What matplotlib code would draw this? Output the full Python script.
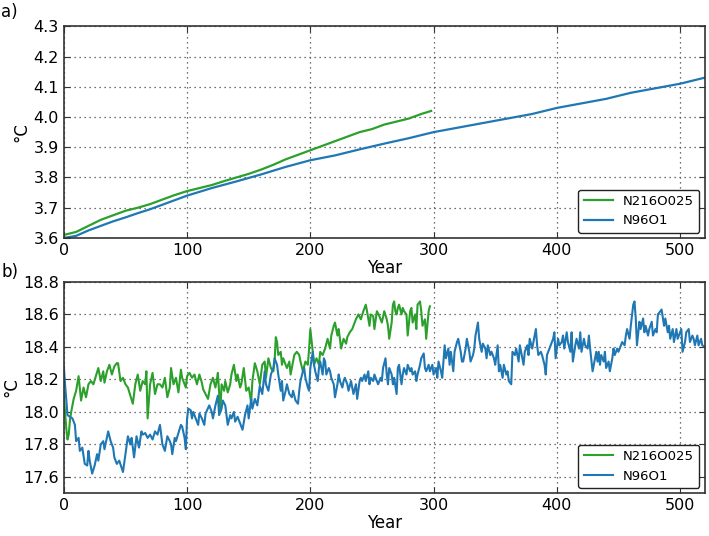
import numpy as np
import matplotlib
matplotlib.use("Agg")
import matplotlib.pyplot as plt

# ---------------- data ----------------
labels = ["N216O025", "N96O1"]
colors = ["#2ca02c", "#1f77b4"]

# panel a) (smooth global mean)
a_green_years = [0, 10, 20, 30, 40, 50, 60, 70, 80, 90, 100, 110, 120, 130, 140, 150, 160, 170, 180,
                 190, 200, 210, 220, 230, 240, 250, 260, 270, 280, 290, 298]
a_green_vals = [3.61, 3.62, 3.64, 3.66, 3.675, 3.69, 3.70, 3.712, 3.727, 3.742, 3.755, 3.765, 3.775, 3.788,
                3.80, 3.812, 3.826, 3.842, 3.86, 3.875, 3.89, 3.905, 3.92, 3.935, 3.95, 3.96, 3.975,
                3.985, 3.995, 4.01, 4.02]
a_blue_years = [0, 10, 20, 30, 40, 50, 60, 70, 80, 90, 100, 120, 140, 160, 180, 200, 220, 240, 260,
                280, 300, 320, 340, 360, 380, 400, 420, 440, 460, 480, 500, 520]
a_blue_vals = [3.60, 3.607, 3.625, 3.64, 3.655, 3.668, 3.682, 3.695, 3.71, 3.725, 3.74, 3.765, 3.787, 3.81,
               3.835, 3.857, 3.873, 3.893, 3.912, 3.93, 3.95, 3.965, 3.98, 3.995, 4.01, 4.03, 4.045,
               4.06, 4.08, 4.095, 4.11, 4.13]

# panel b) (noisy series)
b_green_years = [0, 1, 2, 3, 4, 5, 6, 8, 10, 12, 14, 16, 18, 20, 22, 24, 26, 28, 30, 32, 33, 35, 37, 39,
                 41, 43, 44, 46, 48, 50, 52, 54, 56, 58, 60, 62, 64, 66, 67, 68, 70, 72, 74, 76, 78, 80,
                 82, 84, 86, 87, 89, 91, 93, 95, 96, 99, 100, 102, 104, 106, 108, 110, 112, 113, 115,
                 117, 119, 121, 123, 124, 125, 127, 128, 130, 131, 133, 135, 136, 138, 140, 141, 143,
                 144, 146, 148, 150, 152, 153, 155, 157, 159, 161, 163, 164, 166, 168, 170, 171, 172,
                 173, 174, 176, 177, 178, 181, 183, 184, 185, 187, 189, 191, 192, 194, 196, 198, 199,
                 200, 202, 203, 205, 207, 208, 210, 212, 214, 216, 217, 219, 220, 222, 223, 225, 227,
                 229, 230, 232, 234, 235, 237, 239, 241, 243, 245, 246, 248, 249, 251, 252, 254, 256,
                 258, 260, 262, 263, 264, 266, 267, 268, 269, 270, 271, 272, 274, 275, 276, 278, 279,
                 281, 282, 283, 285, 286, 287, 289, 290, 291, 293, 294, 296, 297]
b_green_vals = [18.10, 18.00, 17.90, 17.83, 17.86, 17.95, 18.00, 18.08, 18.13, 18.22, 18.07, 18.15, 18.09,
                18.17, 18.19, 18.17, 18.22, 18.27, 18.19, 18.25, 18.18, 18.25, 18.29, 18.23, 18.28,
                18.30, 18.30, 18.19, 18.21, 18.17, 18.15, 18.10, 18.05, 18.17, 18.23, 18.13, 18.19,
                18.17, 18.25, 17.96, 18.17, 18.24, 18.11, 18.17, 18.17, 18.15, 18.21, 18.09, 18.15,
                18.27, 18.17, 18.21, 18.12, 18.26, 18.21, 18.15, 18.22, 18.24, 18.21, 18.23, 18.17,
                18.23, 18.18, 18.14, 18.11, 18.08, 18.17, 18.21, 18.15, 18.19, 18.24, 18.00, 18.17,
                18.13, 18.19, 18.12, 18.17, 18.23, 18.29, 18.19, 18.23, 18.15, 18.17, 18.27, 18.13,
                18.15, 18.06, 18.19, 18.30, 18.25, 18.17, 18.29, 18.31, 18.21, 18.33, 18.27, 18.25,
                18.31, 18.46, 18.43, 18.35, 18.37, 18.29, 18.33, 18.27, 18.31, 18.23, 18.27, 18.35,
                18.37, 18.35, 18.31, 18.25, 18.31, 18.29, 18.39, 18.51, 18.37, 18.29, 18.33, 18.29,
                18.37, 18.35, 18.39, 18.45, 18.39, 18.47, 18.53, 18.55, 18.47, 18.51, 18.39, 18.45,
                18.42, 18.46, 18.49, 18.51, 18.53, 18.57, 18.60, 18.57, 18.62, 18.66, 18.62, 18.53,
                18.60, 18.59, 18.51, 18.62, 18.59, 18.55, 18.62, 18.57, 18.53, 18.45, 18.55, 18.66,
                18.68, 18.62, 18.60, 18.64, 18.66, 18.60, 18.64, 18.62, 18.60, 18.47, 18.62, 18.64,
                18.55, 18.60, 18.51, 18.66, 18.68, 18.62, 18.53, 18.57, 18.45, 18.62, 18.65]

b_blue_years = [0, 1, 3, 5, 7, 9, 10, 12, 13, 15, 17, 19, 20, 21, 23, 25, 27, 28, 30, 32, 33, 36, 38, 40,
                41, 43, 45, 48, 50, 52, 54, 55, 57, 59, 61, 63, 64, 66, 68, 70, 72, 74, 76, 78, 80, 82,
                84, 86, 87, 88, 90, 91, 93, 95, 96, 98, 99, 100, 101, 103, 104, 105, 107, 109, 110, 112,
                114, 115, 118, 120, 121, 123, 125, 126, 128, 129, 131, 133, 135, 136, 138, 139, 141,
                143, 145, 147, 149, 150, 152, 153, 155, 157, 159, 161, 163, 164, 166, 168, 170, 171,
                173, 174, 176, 177, 178, 180, 181, 183, 185, 186, 188, 190, 191, 192, 194, 195, 196,
                198, 199, 200, 202, 203, 204, 206, 207, 208, 210, 211, 212, 213, 215, 216, 217, 219,
                220, 222, 223, 224, 226, 227, 228, 230, 231, 233, 234, 235, 237, 238, 240, 241, 242,
                244, 245, 247, 248, 249, 251, 252, 254, 255, 257, 258, 259, 261, 262, 263, 264, 266,
                267, 268, 270, 271, 272, 274, 275, 276, 278, 279, 281, 282, 283, 285, 286, 287, 289,
                290, 292, 293, 294, 296, 297, 299, 300, 302, 303, 304, 306, 307, 309, 310, 312, 313,
                314, 316, 317, 319, 320, 322, 323, 324, 326, 327, 329, 330, 332, 333, 334, 336, 337,
                339, 340, 342, 343, 344, 346, 347, 349, 350, 352, 353, 354, 356, 357, 359, 360, 361,
                363, 364, 366, 367, 369, 370, 371, 373, 374, 376, 377, 378, 380, 381, 383, 384, 385,
                387, 388, 390, 391, 392, 394, 395, 397, 398, 399, 401, 402, 404, 405, 406, 408, 409,
                411, 412, 413, 415, 416, 418, 419, 420, 422, 423, 425, 426, 427, 429, 430, 432, 433,
                434, 435, 436, 438, 439, 440, 442, 443, 445, 446, 447, 449, 450, 452, 453, 455, 456,
                457, 459, 460, 462, 463, 464, 465, 467, 468, 470, 471, 472, 474, 475, 477, 478, 480,
                481, 482, 484, 485, 487, 488, 490, 491, 492, 494, 495, 497, 498, 500, 501, 502, 504,
                505, 507, 508, 510, 511, 512, 514, 515, 517, 518, 520]
b_blue_vals = [18.28, 18.17, 17.98, 17.97, 17.96, 17.92, 17.82, 17.84, 17.76, 17.78, 17.68, 17.67, 17.76,
               17.70, 17.62, 17.67, 17.74, 17.70, 17.80, 17.82, 17.77, 17.88, 17.82, 17.78, 17.72,
               17.68, 17.70, 17.63, 17.74, 17.85, 17.80, 17.84, 17.72, 17.85, 17.78, 17.88, 17.86,
               17.87, 17.84, 17.86, 17.83, 17.88, 17.86, 17.92, 17.80, 17.76, 17.85, 17.82, 17.80,
               17.74, 17.84, 17.82, 17.87, 17.92, 17.91, 17.84, 17.77, 17.96, 18.02, 18.01, 17.96,
               18.00, 17.96, 17.92, 17.99, 17.96, 17.92, 17.99, 18.04, 18.00, 17.96, 18.04, 18.10,
               17.98, 18.02, 18.07, 18.04, 17.92, 17.98, 17.96, 18.00, 17.94, 17.97, 17.93, 17.89,
               17.98, 18.04, 17.96, 18.08, 18.02, 18.08, 18.04, 18.16, 18.11, 18.25, 18.17, 18.13,
               18.23, 18.27, 18.33, 18.29, 18.23, 18.13, 18.19, 18.07, 18.13, 18.17, 18.11, 18.09,
               18.13, 18.07, 18.05, 18.13, 18.19, 18.25, 18.27, 18.21, 18.15, 18.13, 18.27, 18.37,
               18.29, 18.25, 18.19, 18.27, 18.31, 18.23, 18.33, 18.31, 18.23, 18.27, 18.25, 18.21,
               18.17, 18.09, 18.17, 18.23, 18.19, 18.15, 18.19, 18.21, 18.17, 18.13, 18.19, 18.15,
               18.11, 18.17, 18.08, 18.19, 18.21, 18.19, 18.23, 18.19, 18.25, 18.17, 18.21, 18.19,
               18.23, 18.19, 18.17, 18.21, 18.19, 18.27, 18.33, 18.23, 18.17, 18.27, 18.23, 18.17,
               18.21, 18.11, 18.27, 18.29, 18.17, 18.23, 18.27, 18.23, 18.29, 18.25, 18.27, 18.23,
               18.25, 18.19, 18.23, 18.29, 18.33, 18.36, 18.27, 18.25, 18.29, 18.25, 18.29, 18.23,
               18.27, 18.21, 18.31, 18.25, 18.21, 18.41, 18.33, 18.39, 18.29, 18.37, 18.25, 18.37,
               18.43, 18.45, 18.37, 18.31, 18.31, 18.39, 18.45, 18.37, 18.31, 18.35, 18.39, 18.47,
               18.55, 18.45, 18.37, 18.42, 18.39, 18.33, 18.41, 18.35, 18.37, 18.33, 18.29, 18.41,
               18.25, 18.29, 18.21, 18.29, 18.23, 18.25, 18.19, 18.17, 18.37, 18.35, 18.39, 18.31,
               18.41, 18.37, 18.29, 18.37, 18.41, 18.35, 18.45, 18.39, 18.43, 18.51, 18.41, 18.35,
               18.37, 18.35, 18.29, 18.23, 18.35, 18.39, 18.41, 18.45, 18.49, 18.33, 18.45, 18.41,
               18.43, 18.47, 18.39, 18.49, 18.43, 18.37, 18.49, 18.31, 18.41, 18.45, 18.39, 18.49,
               18.37, 18.45, 18.41, 18.39, 18.47, 18.39, 18.25, 18.29, 18.37, 18.31, 18.37, 18.29,
               18.35, 18.31, 18.37, 18.27, 18.31, 18.25, 18.33, 18.39, 18.35, 18.39, 18.37, 18.41,
               18.43, 18.41, 18.47, 18.51, 18.45, 18.53, 18.66, 18.68, 18.58, 18.41, 18.555, 18.51,
               18.575, 18.49, 18.53, 18.47, 18.51, 18.555, 18.47, 18.51, 18.49, 18.60, 18.62, 18.63,
               18.53, 18.575, 18.49, 18.53, 18.45, 18.51, 18.43, 18.51, 18.45, 18.49, 18.51, 18.37,
               18.43, 18.49, 18.51, 18.43, 18.47, 18.45, 18.41, 18.47, 18.41, 18.45, 18.41, 18.40]

a_yticks = [3.6, 3.7, 3.8, 3.9, 4.0, 4.1, 4.2, 4.3]
b_yticks = [17.6, 17.8, 18.0, 18.2, 18.4, 18.6, 18.8]
xticks = [0, 100, 200, 300, 400, 500]

# ---------------- style ----------------
plt.rcParams['font.family'] = ['DejaVu Sans']
plt.rcParams['font.size'] = 11

fig = plt.figure(figsize=(7.09, 5.36), dpi=100)
ax1 = fig.add_axes([0.090, 0.556, 0.904, 0.395])
ax2 = fig.add_axes([0.090, 0.080, 0.904, 0.394])

def style(ax, yticks, ylim):
    ax.set_xlim(0, 520)
    ax.set_ylim(*ylim)
    ax.set_xticks(xticks)
    ax.set_yticks(yticks)
    ax.grid(True, linestyle=(0, (1, 3)), color='#444444', linewidth=0.9)
    ax.tick_params(direction='in', top=True, right=True, length=4, labelsize=11.5, color='#333333')
    for sp in ax.spines.values():
        sp.set_color('#333333')
        sp.set_linewidth(1.2)
    ax.set_xlabel('Year', fontsize=12, labelpad=1)
    ax.set_ylabel('°C', fontsize=12, labelpad=2)

ax1.plot(a_green_years, a_green_vals, color=colors[0], lw=1.6, label=labels[0])
ax1.plot(a_blue_years, a_blue_vals, color=colors[1], lw=1.6, label=labels[1])
style(ax1, a_yticks, (3.6, 4.3))
ax1.yaxis.set_major_formatter(matplotlib.ticker.FormatStrFormatter('%.1f'))

ax2.plot(b_green_years, b_green_vals, color=colors[0], lw=1.5, label=labels[0])
ax2.plot(b_blue_years, b_blue_vals, color=colors[1], lw=1.5, label=labels[1])
style(ax2, b_yticks, (17.5, 18.8))
ax2.yaxis.set_major_formatter(matplotlib.ticker.FormatStrFormatter('%.1f'))

for ax in (ax1, ax2):
    leg = ax.legend(loc='lower right', fontsize=9.5, frameon=True, fancybox=True,
                    borderaxespad=0.4, handlelength=2.2, framealpha=1)
    leg.get_frame().set_edgecolor('#222222')
    leg.get_frame().set_linewidth(1.0)

fig.text(0.002, 0.995, 'a)', fontsize=12, va='top', ha='left')
fig.text(0.002, 0.51, 'b)', fontsize=12, va='top', ha='left')

fig.savefig('out.png', dpi=100)
